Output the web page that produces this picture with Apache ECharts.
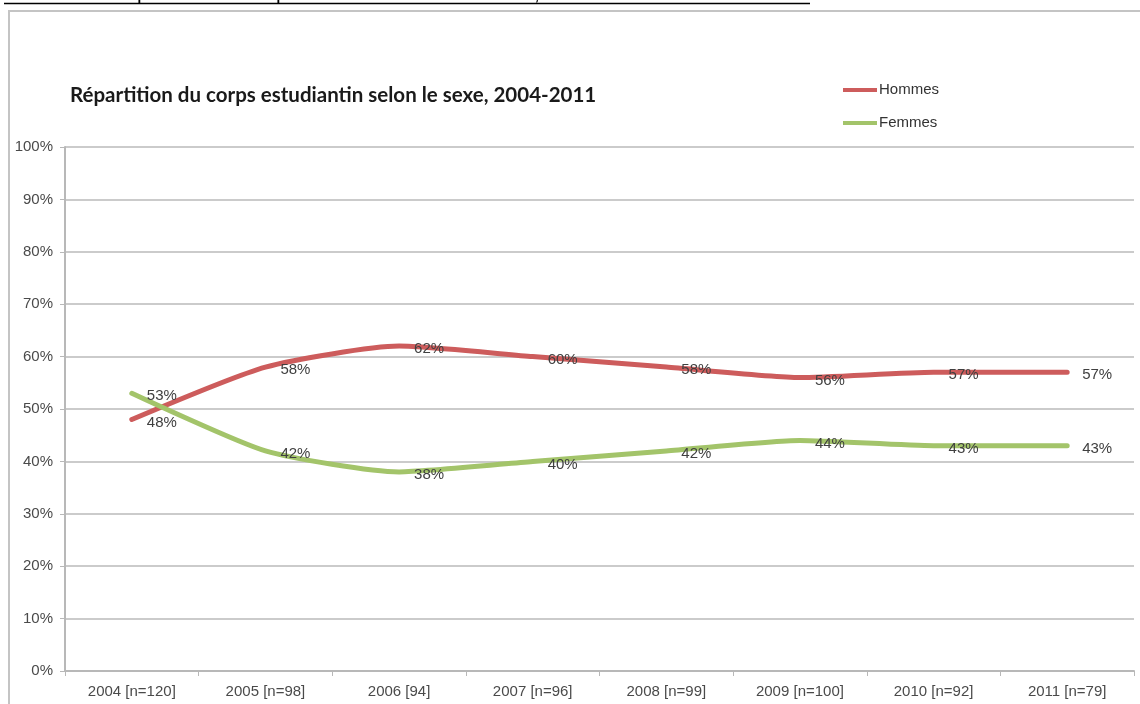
<!DOCTYPE html>
<html>
<head>
<meta charset="utf-8">
<script src="https://cdn.jsdelivr.net/npm/echarts@6/dist/echarts.min.js"></script>
<style>
  html, body { margin: 0; padding: 0; background: #fff; }
  #chart { width: 1140px; height: 704px; }
</style>
</head>
<body>
<div id="chart"></div>
<script>
// Student body by sex, share of enrolled students per year
const categories = ['2004 [n=120]', '2005 [n=98]', '2006 [94]', '2007 [n=96]', '2008 [n=99]', '2009 [n=100]', '2010 [n=92]', '2011 [n=79]'];
const hommes = [48, 58, 62, 60, 58, 56, 57, 57];
const femmes = [53, 42, 38, 40, 42, 44, 43, 43];
const yTicks = [0, 10, 20, 30, 40, 50, 60, 70, 80, 90, 100];

const labelFont = 'Liberation Sans, Arial, sans-serif';

const chart = echarts.init(document.getElementById('chart'), null, { renderer: 'canvas' });

function lineSeries(name, data, color) {
  return {
    name: name,
    type: 'line',
    data: data,
    smooth: 0.2,
    showSymbol: true,
    symbol: 'circle',
    symbolSize: 0,
    lineStyle: { color: color, width: 5, cap: 'round', join: 'round' },
    itemStyle: { color: color },
    label: {
      show: true,
      position: 'right',
      distance: 15,
      offset: [0, 3],
      formatter: '{c}%',
      color: '#404040',
      fontFamily: labelFont,
      fontSize: 15
    },
    emphasis: { disabled: true },
    z: 3
  };
}

chart.setOption({
  animation: false,
  backgroundColor: '#ffffff',
  graphic: [
    {
      type: 'rect',
      shape: { x: 9, y: 11, width: 1160, height: 720 },
      style: { fill: 'none', stroke: '#c4c4c4', lineWidth: 2 },
      z: -10
    },
    {
      type: 'text',
      x: 4,
      y: -16,
      style: {
        text: 'Annexe 2 : Répartition du corps estudiantin selon le sexe, 2004-2012',
        font: '21px "Liberation Sans", Arial, sans-serif',
        fill: '#000',
        verticalAlign: 'top'
      }
    },
    {
      type: 'line',
      shape: { x1: 4, y1: 3.5, x2: 810, y2: 3.5 },
      style: { stroke: '#000', lineWidth: 1.5 }
    },
    {
      type: 'text',
      x: 70,
      y: 85,
      style: {
        text: 'Répartition du corps estudiantin selon le sexe, 2004-2011',
        font: 'bold 20.5px Lato, "Open Sans", sans-serif',
        fill: '#1a1a1a',
        verticalAlign: 'top'
      }
    }
  ],
  legend: {
    orient: 'vertical',
    left: 843,
    top: 81,
    padding: 0,
    itemWidth: 34,
    itemHeight: 4,
    itemGap: 15,
    icon: 'rect',
    selectedMode: false,
    textStyle: { color: '#333', fontFamily: labelFont, fontSize: 15, padding: [0, 0, 0, -3], lineHeight: 18 },
    data: ['Hommes', 'Femmes']
  },
  grid: {
    left: 65,
    right: 6,
    top: 147,
    bottom: 704 - 671,
    containLabel: false
  },
  xAxis: {
    type: 'category',
    data: categories,
    boundaryGap: true,
    axisLine: { show: true, lineStyle: { color: '#b8b8b8', width: 2 } },
    axisTick: { show: true, length: 5, alignWithLabel: false, lineStyle: { color: '#b8b8b8', width: 1 } },
    axisLabel: { color: '#4a4a4a', fontFamily: labelFont, fontSize: 15, margin: 13, interval: 0 },
    splitLine: { show: false }
  },
  yAxis: {
    type: 'value',
    min: yTicks[0],
    max: yTicks[yTicks.length - 1],
    interval: yTicks[1] - yTicks[0],
    axisLine: { show: true, lineStyle: { color: '#b8b8b8', width: 2 } },
    axisTick: { show: true, length: 5, lineStyle: { color: '#b8b8b8', width: 1 } },
    axisLabel: { color: '#4a4a4a', fontFamily: labelFont, fontSize: 15, margin: 12, formatter: '{value}%' },
    splitLine: { show: true, lineStyle: { color: '#cbcbcb', width: 2 } }
  },
  series: [
    lineSeries('Hommes', hommes, '#cd5c5c'),
    lineSeries('Femmes', femmes, '#a3c46a')
  ]
});
</script>
</body>
</html>
